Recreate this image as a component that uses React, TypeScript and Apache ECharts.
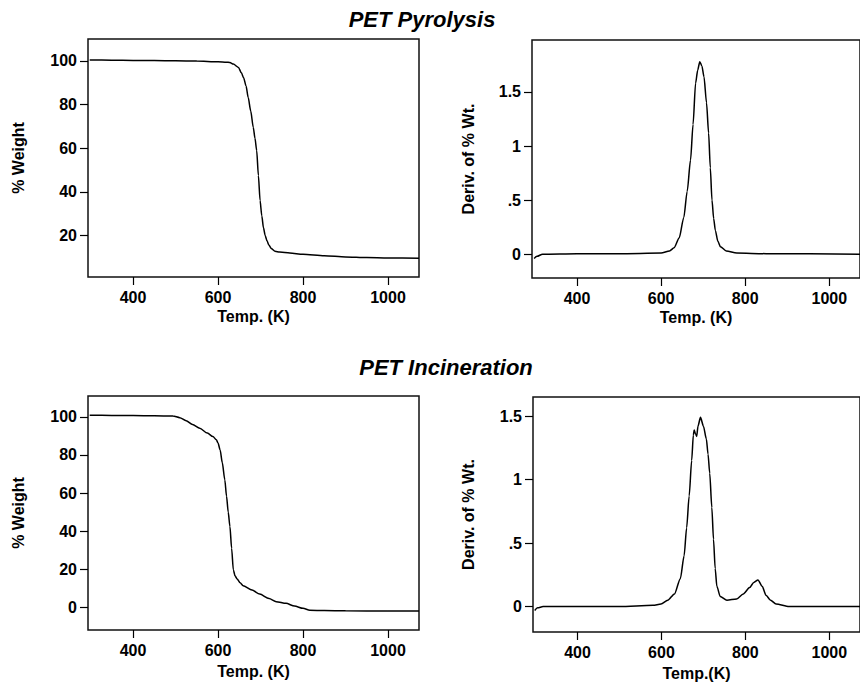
import React, { useEffect, useRef } from "react";
import * as echarts from "echarts";

// ---- Data ----
const titles = ["PET Pyrolysis", "PET Incineration"];
const weightTicks = [20, 40, 60, 80, 100];
const weightTicksIncin = [0, 20, 40, 60, 80, 100];
const derivTicks = [0, 0.5, 1, 1.5];
const tempTicks = [400, 600, 800, 1000];

const pyroWeightT = [298, 350, 400, 450, 500, 550, 600, 620, 628, 636, 648, 655, 660, 666, 671, 677, 683, 687, 691, 695, 699, 703, 707, 711, 715, 720, 726, 734, 745, 769, 800, 850, 900, 950, 1000, 1073];
const pyroWeight = [100.4, 100.3, 100.2, 100.1, 100.0, 99.9, 99.6, 99.4, 99.2, 98.5, 97, 94.5, 92.4, 88.5, 83.2, 77, 69.5, 64.5, 58.9, 47.5, 36, 29, 23.5, 20, 17.7, 15.5, 13.9, 12.8, 12.4, 12.0, 11.4, 10.7, 10.2, 9.9, 9.7, 9.6];

const pyroDerivT = [298, 305, 318, 400, 500, 600, 620, 631, 643, 654, 662, 670, 676, 682, 687, 692, 697, 702, 708, 713, 717, 721, 725, 729, 735, 741, 755, 780, 850, 1073];
const pyroDeriv = [-0.04, -0.02, 0.0, 0.005, 0.005, 0.01, 0.03, 0.06, 0.15, 0.34, 0.58, 0.87, 1.2, 1.58, 1.7, 1.78, 1.74, 1.64, 1.4, 1.12, 0.8, 0.5, 0.33, 0.22, 0.12, 0.07, 0.03, 0.01, 0.005, 0.0];

const incinWeightT = [298, 350, 400, 450, 494, 510, 525, 540, 557, 575, 588, 596, 600, 605, 610, 616, 620, 624, 628, 632, 636, 640, 645, 652, 659, 680, 698, 720, 737, 760, 780, 800, 816, 850, 900, 1000, 1073];
const incinWeight = [100.9, 100.8, 100.7, 100.6, 100.5, 99.6, 98, 96, 94, 91.5, 89.7, 88, 86.3, 82.6, 76, 66.9, 58.4, 50, 42.4, 31, 19.7, 16.5, 14.8, 12.8, 11.3, 9, 6.9, 4.5, 2.9, 2, 0.6, -0.6, -1.6, -1.8, -1.9, -2.0, -2.0];

const incinDerivT = [298, 305, 318, 400, 500, 580, 599, 615, 631, 645, 654, 660, 666, 672, 676, 678, 681, 684, 687, 693, 700, 707, 711, 715, 720, 724, 728, 732, 740, 756, 779, 795, 810, 820, 830, 840, 849, 860, 873, 904, 1073];
const incinDeriv = [-0.03, -0.01, 0.0, 0.0, 0.0, 0.01, 0.02, 0.05, 0.1, 0.22, 0.4, 0.62, 0.87, 1.15, 1.35, 1.39, 1.36, 1.34, 1.42, 1.49, 1.42, 1.32, 1.2, 1.05, 0.78, 0.53, 0.3, 0.16, 0.08, 0.05, 0.06, 0.1, 0.15, 0.19, 0.21, 0.16, 0.09, 0.05, 0.02, 0.0, 0.0];

const FONT = "'Liberation Sans', Arial, sans-serif";

const pairs = (xs: number[], ys: number[]) => xs.map((x, i) => [x, ys[i]]);

const derivFmt = (v: number) => {
  if (Math.abs(v) < 1e-9) return "0";
  if (Math.abs(v - 0.5) < 1e-9) return ".5";
  if (Math.abs(v - 1) < 1e-9) return "1";
  if (Math.abs(v - 1.5) < 1e-9) return "1.5";
  return "";
};

export default function App() {
  const ref = useRef<HTMLDivElement>(null);

  useEffect(() => {
    if (!ref.current) return;
    const chart = echarts.init(ref.current, undefined, { renderer: "svg" });

    const grids = [
      { left: 88, top: 39, width: 331, height: 238 },
      { left: 532, top: 40, width: 333, height: 238 },
      { left: 88, top: 396, width: 331, height: 234 },
      { left: 533, top: 397, width: 333, height: 235 },
    ].map((g) => ({
      ...g,
      show: true,
      borderColor: "#111",
      borderWidth: 1.5,
      backgroundColor: "transparent",
      containLabel: false,
    }));

    const xRanges = [
      [294, 1073],
      [293, 1073],
      [294, 1073],
      [294, 1073],
    ];
    const xNameGap = [31, 31, 33, 33];
    const xNames = ["Temp. (K)", "Temp. (K)", "Temp. (K)", "Temp.(K)"];

    const xAxes = xRanges.map((r, i) => ({
      type: "value",
      gridIndex: i,
      position: "bottom",
      min: r[0],
      max: r[1],
      name: xNames[i],
      nameLocation: "middle",
      nameGap: xNameGap[i],
      nameTextStyle: { fontFamily: FONT, fontWeight: "bold", fontSize: 16, color: "#000" },
      axisLine: { show: false, onZero: false },
      splitLine: { show: false },
      axisTick: {
        show: true,
        inside: false,
        length: 8,
        lineStyle: { color: "#000", width: 1.2 },
        customValues: tempTicks,
      },
      axisLabel: {
        show: true,
        margin: 12,
        fontFamily: FONT,
        fontWeight: "bold",
        fontSize: 16,
        color: "#000",
        customValues: tempTicks,
        formatter: (v: number) => String(v),
      },
    }));

    const yRanges = [
      [1, 110],
      [-0.22, 1.98],
      [-12, 111],
      [-0.2, 1.65],
    ];
    const yTicks = [weightTicks, derivTicks, weightTicksIncin, derivTicks];
    const yNames = ["% Weight", "Deriv. of % Wt.", "% Weight", "Deriv. of % Wt."];
    const yNameGap = [62, 56, 62, 57];

    const yAxes = yRanges.map((r, i) => ({
      type: "value",
      gridIndex: i,
      position: "left",
      min: r[0],
      max: r[1],
      name: yNames[i],
      nameLocation: "middle",
      nameGap: yNameGap[i],
      nameRotate: 90,
      nameTextStyle: { fontFamily: FONT, fontWeight: "bold", fontSize: 16, color: "#000" },
      axisLine: { show: false, onZero: false },
      splitLine: { show: false },
      axisTick: {
        show: true,
        inside: false,
        length: 8,
        lineStyle: { color: "#000", width: 1.2 },
        customValues: yTicks[i],
      },
      axisLabel: {
        show: true,
        margin: 11,
        fontFamily: FONT,
        fontWeight: "bold",
        fontSize: 16,
        color: "#000",
        customValues: yTicks[i],
        formatter: i % 2 === 1 ? (v: number) => derivFmt(v) : (v: number) => String(v),
      },
    }));

    const seriesData = [
      pairs(pyroWeightT, pyroWeight),
      pairs(pyroDerivT, pyroDeriv),
      pairs(incinWeightT, incinWeight),
      pairs(incinDerivT, incinDeriv),
    ];

    const series = seriesData.map((d, i) => ({
      type: "line",
      xAxisIndex: i,
      yAxisIndex: i,
      data: d,
      symbol: "none",
      smooth: 0.25,
      smoothMonotone: "x",
      lineStyle: { color: "#000", width: 1.5 },
      clip: true,
    }));

    chart.setOption({
      animation: false,
      backgroundColor: "#fff",
      grid: grids,
      xAxis: xAxes,
      yAxis: yAxes,
      series,
      graphic: [
        {
          type: "text",
          x: 422,
          y: 19,
          style: {
            text: titles[0],
            fontFamily: FONT,
            fontWeight: "bold",
            fontStyle: "italic",
            fontSize: 22,
            fill: "#000",
            textAlign: "center",
            textVerticalAlign: "middle",
          },
        },
        {
          type: "text",
          x: 446,
          y: 367,
          style: {
            text: titles[1],
            fontFamily: FONT,
            fontWeight: "bold",
            fontStyle: "italic",
            fontSize: 22,
            fill: "#000",
            textAlign: "center",
            textVerticalAlign: "middle",
          },
        },
      ],
    });

    return () => chart.dispose();
  }, []);

  return (
    <div
      ref={ref}
      style={{ position: "fixed", left: 0, top: 0, width: 860, height: 685, background: "#fff" }}
    />
  );
}
